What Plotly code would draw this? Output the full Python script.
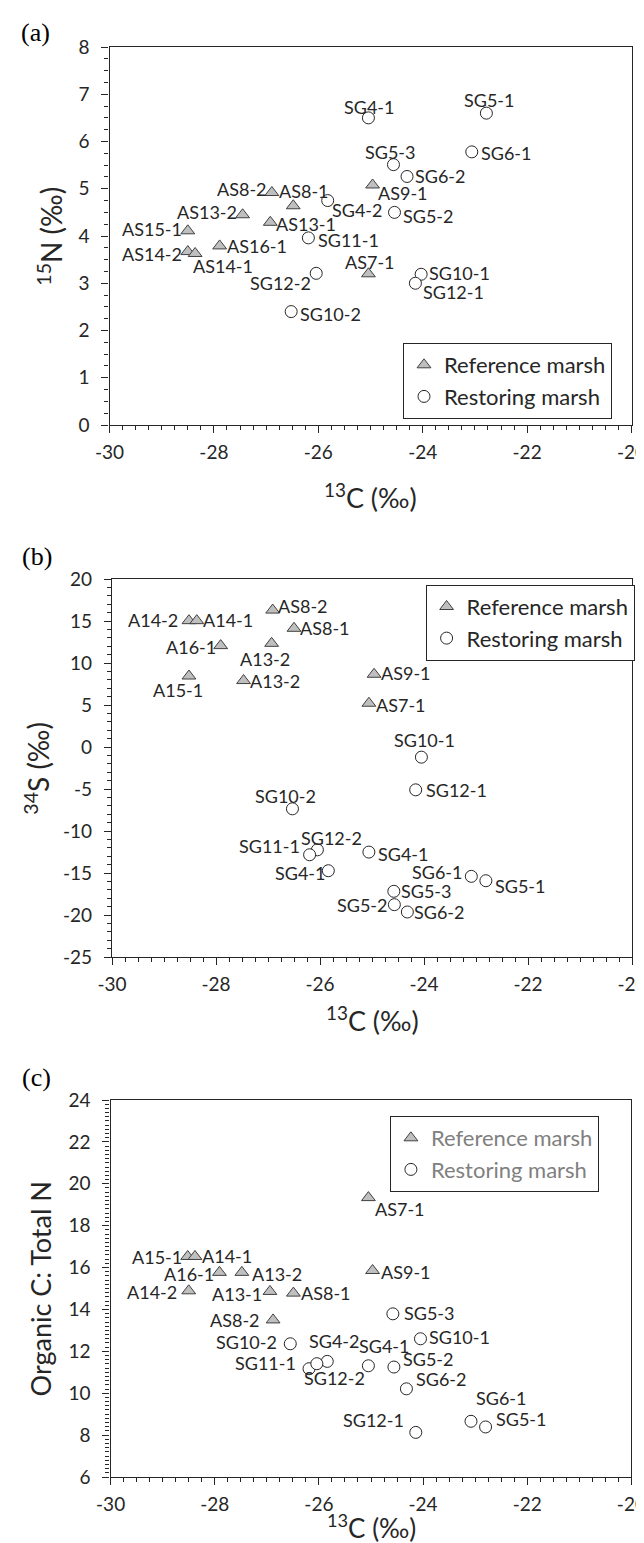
import plotly.graph_objects as go

W, H = 644, 1543

# ---------------- data ----------------
# Panel (a): d13C vs d15N
a_ref_names = ["AS8-2", "AS8-1", "AS13-2", "AS13-1", "AS15-1", "AS16-1", "AS14-2", "AS14-1", "AS9-1", "AS7-1"]
a_ref_x = [-26.89, -26.48, -27.45, -26.92, -28.50, -27.89, -28.50, -28.36, -24.96, -25.04]
a_ref_y = [4.92, 4.64, 4.45, 4.29, 4.11, 3.79, 3.67, 3.63, 5.08, 3.20]

a_res_names = ["SG4-1", "SG5-1", "SG6-1", "SG5-3", "SG6-2", "SG4-2", "SG5-2", "SG11-1", "SG12-2", "SG10-1", "SG12-1", "SG10-2"]
a_res_x = [-25.04, -22.78, -23.06, -24.56, -24.30, -25.82, -24.54, -26.19, -26.04, -24.03, -24.14, -26.52]
a_res_y = [6.50, 6.60, 5.78, 5.51, 5.26, 4.75, 4.50, 3.96, 3.21, 3.19, 3.00, 2.40]

# Panel (b): d13C vs d34S
b_ref_names = ["AS8-2", "A14-2", "A14-1", "AS8-1", "A16-1", "A13-2", "A15-1", "A13-2", "AS9-1", "AS7-1"]
b_ref_x = [-26.91, -28.52, -28.37, -26.50, -27.91, -26.93, -28.52, -27.47, -24.96, -25.06]
b_ref_y = [16.3, 15.04, 15.04, 14.13, 12.07, 12.34, 8.45, 7.91, 8.66, 5.21]

b_res_names = ["SG10-1", "SG12-1", "SG10-2", "SG12-2", "SG11-1", "SG4-1", "SG4-1", "SG6-1", "SG5-1", "SG5-3", "SG5-2", "SG6-2"]
b_res_x = [-24.05, -24.16, -26.53, -26.05, -26.20, -25.06, -25.84, -23.09, -22.81, -24.58, -24.57, -24.32]
b_res_y = [-1.21, -5.10, -7.36, -12.24, -12.83, -12.51, -14.73, -15.40, -15.92, -17.18, -18.77, -19.64]

# Panel (c): d13C vs Organic C : Total N
c_ref_names = ["AS7-1", "A15-1", "A14-1", "A16-1", "A13-2", "AS9-1", "A14-2", "A13-1", "AS8-1", "AS8-2"]
c_ref_x = [-25.05, -28.52, -28.38, -27.91, -27.48, -24.97, -28.50, -26.94, -26.49, -26.88]
c_ref_y = [19.34, 16.53, 16.53, 15.77, 15.77, 15.86, 14.89, 14.86, 14.78, 13.50]

c_res_names = ["SG5-3", "SG10-1", "SG10-2", "SG4-2", "SG4-1", "SG11-1", "SG12-2", "SG5-2", "SG6-2", "SG6-1", "SG5-1", "SG12-1"]
c_res_x = [-24.58, -24.05, -26.55, -25.84, -25.05, -26.19, -26.04, -24.56, -24.32, -23.08, -22.80, -24.14]
c_res_y = [13.79, 12.60, 12.36, 11.52, 11.31, 11.17, 11.41, 11.25, 10.21, 8.66, 8.39, 8.13]

x_ticks = [-30, -28, -26, -24, -22, -20]
a_y_ticks = [0, 1, 2, 3, 4, 5, 6, 7, 8]
b_y_ticks = [-25, -20, -15, -10, -5, 0, 5, 10, 15, 20]
c_y_ticks = [6, 8, 10, 12, 14, 16, 18, 20, 22, 24]

series_names = ["Reference marsh", "Restoring marsh"]
x_title = "<sup>13</sup>C (‰)"
y_titles = ["<sup>15</sup>N (‰)", "<sup>34</sup>S (‰)", "Organic C: Total N"]
panel_tags = ["(a)", "(b)", "(c)"]

# ---------------- label offsets (style: px of label centre from marker) ----------------
a_ref_off = [(-30, -4), (11, -15), (-36, -3), (36, 2), (-36, -2), (37, 0), (-36, 2), (28, 13), (30, 8), (2, -12)]
a_res_off = [(1, -11), (3, -13), (34, 1), (-3, -13), (33, 0), (29, 9), (33, 4), (40, 2), (-36, 10), (38, -1), (38, 9), (39, 2)]
b_ref_off = [(30, -4), (-36, -1), (31, -1), (31, 0), (-30, 1), (-7, 16), (-11, 14), (31, 0), (32, -1), (32, 2)]
b_res_off = [(3, -17), (41, 0), (-7, -13), (14, -12), (-40, -9), (34, 2), (-28, 2), (-34, -4), (34, 5), (32, 0), (-32, 0), (32, 0)]
c_ref_off = [(32, 11), (-31, 1), (32, 0), (-30, 2), (35, 2), (33, 2), (-37, 1), (-33, 3), (33, 0), (-38, 0)]
c_res_off = [(36, -1), (39, -2), (-44, -2), (7, -20), (16, -20), (-44, -6), (18, 14), (34, -8), (35, -10), (30, -23), (35, -8), (-42, -12)]

# ---------------- style ----------------
FONT = "Lato"
INK = "#262626"
LBL = dict(family=FONT, size=18, color=INK)

# plot-area boxes in px: (left, right, top, bottom)
boxes = [(101.5, 623.5, 39, 417), (104.0, 624.0, 571, 949), (102.6, 623.4, 1092, 1469)]
x_title_y = [488, 1011, None]          # centre y of x titles (last one sits on page bottom)
y_title_x = [41.7, 28.7, 32.9]         # centre x of y titles
y_title_size = [28, 28, 27]
tag_pos = [(27, 25), (28.7, 548), (28.7, 1069)]
legend_pos = [(395, 335, INK), (417.6, 576.7, INK), (381.9, 1108, "#808080")]

fig = go.Figure()

panels = [
    dict(xa="x", ya="y", lg="legend",
         ref=(a_ref_x, a_ref_y, a_ref_names, a_ref_off),
         res=(a_res_x, a_res_y, a_res_names, a_res_off)),
    dict(xa="x2", ya="y2", lg="legend2",
         ref=(b_ref_x, b_ref_y, b_ref_names, b_ref_off),
         res=(b_res_x, b_res_y, b_res_names, b_res_off)),
    dict(xa="x3", ya="y3", lg="legend3",
         ref=(c_ref_x, c_ref_y, c_ref_names, c_ref_off),
         res=(c_res_x, c_res_y, c_res_names, c_res_off)),
]

marker_styles = [
    dict(symbol="triangle-up", size=12, color="#BFBFBF", line=dict(color="#404040", width=1)),
    dict(symbol="circle", size=12, color="white", line=dict(color="#262626", width=1)),
]

for p in panels:
    for k, key in enumerate(["ref", "res"]):
        xs, ys, names, offs = p[key]
        fig.add_trace(go.Scatter(
            x=xs, y=ys, text=names, mode="markers",
            name=series_names[k], legend=p["lg"], xaxis=p["xa"], yaxis=p["ya"],
            marker=marker_styles[k], cliponaxis=False, hoverinfo="text"))
        for xv, yv, nm, (dx, dy) in zip(xs, ys, names, offs):
            fig.add_annotation(x=xv, y=yv, xref=p["xa"], yref=p["ya"], text=nm,
                               showarrow=False, xanchor="center", yanchor="middle",
                               xshift=dx, yshift=-dy, font=LBL)


def xaxis_style(box, anchor):
    left, right, top, bottom = box
    return dict(
        domain=[left / W, right / W], anchor=anchor, range=[-30, -20], automargin=False,
        tickmode="array", tickvals=x_ticks, ticktext=[str(v) for v in x_ticks],
        showline=True, linecolor=INK, linewidth=1.3, mirror=True,
        ticks="outside", ticklen=7, tickwidth=1.3, tickcolor=INK, ticklabelstandoff=3,
        minor=dict(dtick=0.25, ticks="outside", ticklen=4, tickwidth=1, tickcolor=INK),
        showgrid=False, zeroline=False,
        tickfont=dict(family=FONT, size=19, color=INK),
    )


def yaxis_style(box, anchor, rng, ticks, minor):
    left, right, top, bottom = box
    return dict(
        domain=[1 - bottom / H, 1 - top / H], anchor=anchor, range=rng, automargin=False,
        tickmode="array", tickvals=ticks, ticktext=[str(v) for v in ticks],
        showline=True, linecolor=INK, linewidth=1.3, mirror=True,
        ticks="outside", ticklen=7, tickwidth=1.3, tickcolor=INK, ticklabelstandoff=8,
        minor=dict(dtick=minor, ticks="outside", ticklen=4, tickwidth=1, tickcolor=INK),
        showgrid=False, zeroline=False,
        tickfont=dict(family=FONT, size=19, color=INK),
    )


def legend_style(left, top, color):
    return dict(
        x=left / W, y=1 - top / H, xanchor="left", yanchor="top",
        bordercolor=INK, borderwidth=1, bgcolor="white",
        font=dict(family=FONT, size=22, color=color),
        itemwidth=30, tracegroupgap=0,
    )


fig.update_layout(
    width=W, height=H,
    margin=dict(l=0, r=0, t=0, b=0, autoexpand=False),
    paper_bgcolor="white", plot_bgcolor="white",
    font=dict(family=FONT, color=INK),
    xaxis=xaxis_style(boxes[0], "y"),
    yaxis=yaxis_style(boxes[0], "x", [0, 8], a_y_ticks, 0.25),
    xaxis2=xaxis_style(boxes[1], "y2"),
    yaxis2=yaxis_style(boxes[1], "x2", [-25, 20], b_y_ticks, 1),
    xaxis3=xaxis_style(boxes[2], "y3"),
    yaxis3=yaxis_style(boxes[2], "x3", [6, 24], c_y_ticks, 0.2),
    legend=legend_style(*legend_pos[0]),
    legend2=legend_style(*legend_pos[1]),
    legend3=legend_style(*legend_pos[2]),
    showlegend=True,
)

for i, box in enumerate(boxes):
    left, right, top, bottom = box
    # x-axis title
    if x_title_y[i] is not None:
        fig.add_annotation(text=x_title, x=(left + right) / 2 / W, y=1 - x_title_y[i] / H,
                           xref="paper", yref="paper", xanchor="center", yanchor="middle",
                           showarrow=False, font=dict(family=FONT, size=27, color=INK))
    else:
        fig.add_annotation(text=x_title, x=(left + right) / 2 / W, y=5 / H,
                           xref="paper", yref="paper", xanchor="center", yanchor="bottom",
                           showarrow=False, font=dict(family=FONT, size=26, color=INK))
    # y-axis title
    fig.add_annotation(text=y_titles[i], x=y_title_x[i] / W, y=1 - (top + bottom) / 2 / H,
                       xref="paper", yref="paper", xanchor="center", yanchor="middle",
                       textangle=-90, showarrow=False,
                       font=dict(family=FONT, size=y_title_size[i], color=INK))
    # panel tag
    tx, ty = tag_pos[i]
    fig.add_annotation(text=panel_tags[i], x=tx / W, y=1 - ty / H, xref="paper", yref="paper",
                       xanchor="center", yanchor="middle", showarrow=False,
                       font=dict(family="Liberation Serif", size=26, color="black"))

fig.write_html("out.html")
